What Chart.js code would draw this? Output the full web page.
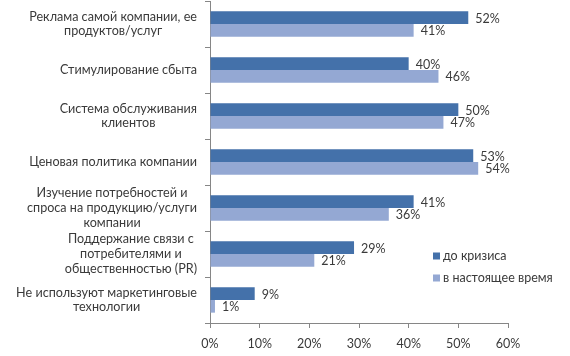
<!DOCTYPE html>
<html>
<head>
<meta charset="utf-8">
<script src="https://cdn.jsdelivr.net/npm/chart.js@4"></script>
<style>
html,body{margin:0;padding:0;background:#fff;}
#wrap{width:570px;height:356px;position:relative;}
</style>
</head>
<body>
<div id="wrap"><canvas id="c" width="570" height="356"></canvas></div>
<script>
const categories = [
  ["Реклама самой компании, ее", "продуктов/услуг"],
  ["Стимулирование сбыта"],
  ["Система обслуживания", "клиентов"],
  ["Ценовая политика компании"],
  ["Изучение потребностей и", "спроса на продукцию/услуги", "компании"],
  ["Поддержание связи с", "потребителями и", "общественностью (PR)"],
  ["Не используют маркетинговые", "технологии"]
];
const seriesNames = ["до кризиса", "в настоящее время"];
const beforeCrisis = [52, 40, 50, 53, 41, 29, 9];
const nowValues = [41, 46, 47, 54, 36, 21, 1];
const xTicks = [0, 10, 20, 30, 40, 50, 60];

const FONT = "Lato, 'Open Sans', sans-serif";
const TEXT = "#3a3a3a";
const DARK = "#4471AA";
const LIGHT = "#94A8D3";

const valueLabels = {
  id: 'valueLabels',
  afterDatasetsDraw(chart) {
    const ctx = chart.ctx;
    ctx.save();
    ctx.font = "12.5px " + FONT;
    ctx.fillStyle = TEXT;
    ctx.textAlign = 'left';
    ctx.textBaseline = 'middle';
    chart.data.datasets.forEach((ds, di) => {
      const meta = chart.getDatasetMeta(di);
      meta.data.forEach((el, i) => {
        ctx.fillText(ds.data[i] + '%', el.x + 7, el.y + 1);
      });
    });
    ctx.restore();
  }
};

const catLabels = {
  id: 'catLabels',
  afterDraw(chart) {
    const ctx = chart.ctx;
    const ys = chart.scales.y;
    ctx.save();
    ctx.font = "12.6px " + FONT;
    ctx.fillStyle = TEXT;
    ctx.textAlign = 'center';
    ctx.textBaseline = 'middle';
    const right = 197, lh = 14.6;
    chart.data.labels.forEach((lines, i) => {
      const cy = ys.getPixelForValue(i);
      let w = 0;
      lines.forEach(l => { w = Math.max(w, ctx.measureText(l).width); });
      const cx = right - w / 2;
      const y0 = cy - (lines.length - 1) * lh / 2;
      lines.forEach((l, k) => ctx.fillText(l, cx, y0 + k * lh));
    });
    ctx.restore();
  }
};

const customLegend = {
  id: 'customLegend',
  afterDraw(chart) {
    const ctx = chart.ctx;
    ctx.save();
    ctx.font = "12.5px " + FONT;
    ctx.textAlign = 'left';
    ctx.textBaseline = 'middle';
    const x = 433, ys = [256, 278];
    chart.data.datasets.forEach((ds, i) => {
      ctx.fillStyle = ds.backgroundColor;
      ctx.fillRect(x, ys[i] - 3.5, 7, 7);
      ctx.fillStyle = TEXT;
      ctx.fillText(ds.label, x + 10, ys[i]);
    });
    ctx.restore();
  }
};

new Chart(document.getElementById('c'), {
  type: 'bar',
  data: {
    labels: categories,
    datasets: [
      { label: seriesNames[0], data: beforeCrisis, backgroundColor: DARK, borderWidth: 0 },
      { label: seriesNames[1], data: nowValues, backgroundColor: LIGHT, borderWidth: 0 }
    ]
  },
  options: {
    indexAxis: 'y',
    responsive: false,
    animation: false,
    devicePixelRatio: 1,
    layout: { padding: { top: 1, right: 62, left: 0, bottom: 0 } },
    datasets: { bar: { categoryPercentage: 0.55, barPercentage: 1.0 } },
    plugins: { legend: { display: false }, tooltip: { enabled: false } },
    scales: {
      x: {
        min: 0, max: 60,
        afterBuildTicks(s) { s.ticks = xTicks.map(v => ({ value: v })); },
        afterFit(s) { s.height = 33; },
        ticks: { color: TEXT, font: { family: FONT, size: 12.5 }, padding: 8, callback: v => v + '%' },
        grid: { drawOnChartArea: false, drawTicks: true, tickLength: 5, color: "#868686" },
        border: { display: true, color: "#868686" }
      },
      y: {
        afterFit(s) { s.width = 210; },
        ticks: { display: false },
        grid: { drawOnChartArea: false, drawTicks: true, tickLength: 5, color: "#868686", offset: true },
        border: { display: true, color: "#868686" }
      }
    }
  },
  plugins: [valueLabels, catLabels, customLegend]
});
</script>
</body>
</html>
